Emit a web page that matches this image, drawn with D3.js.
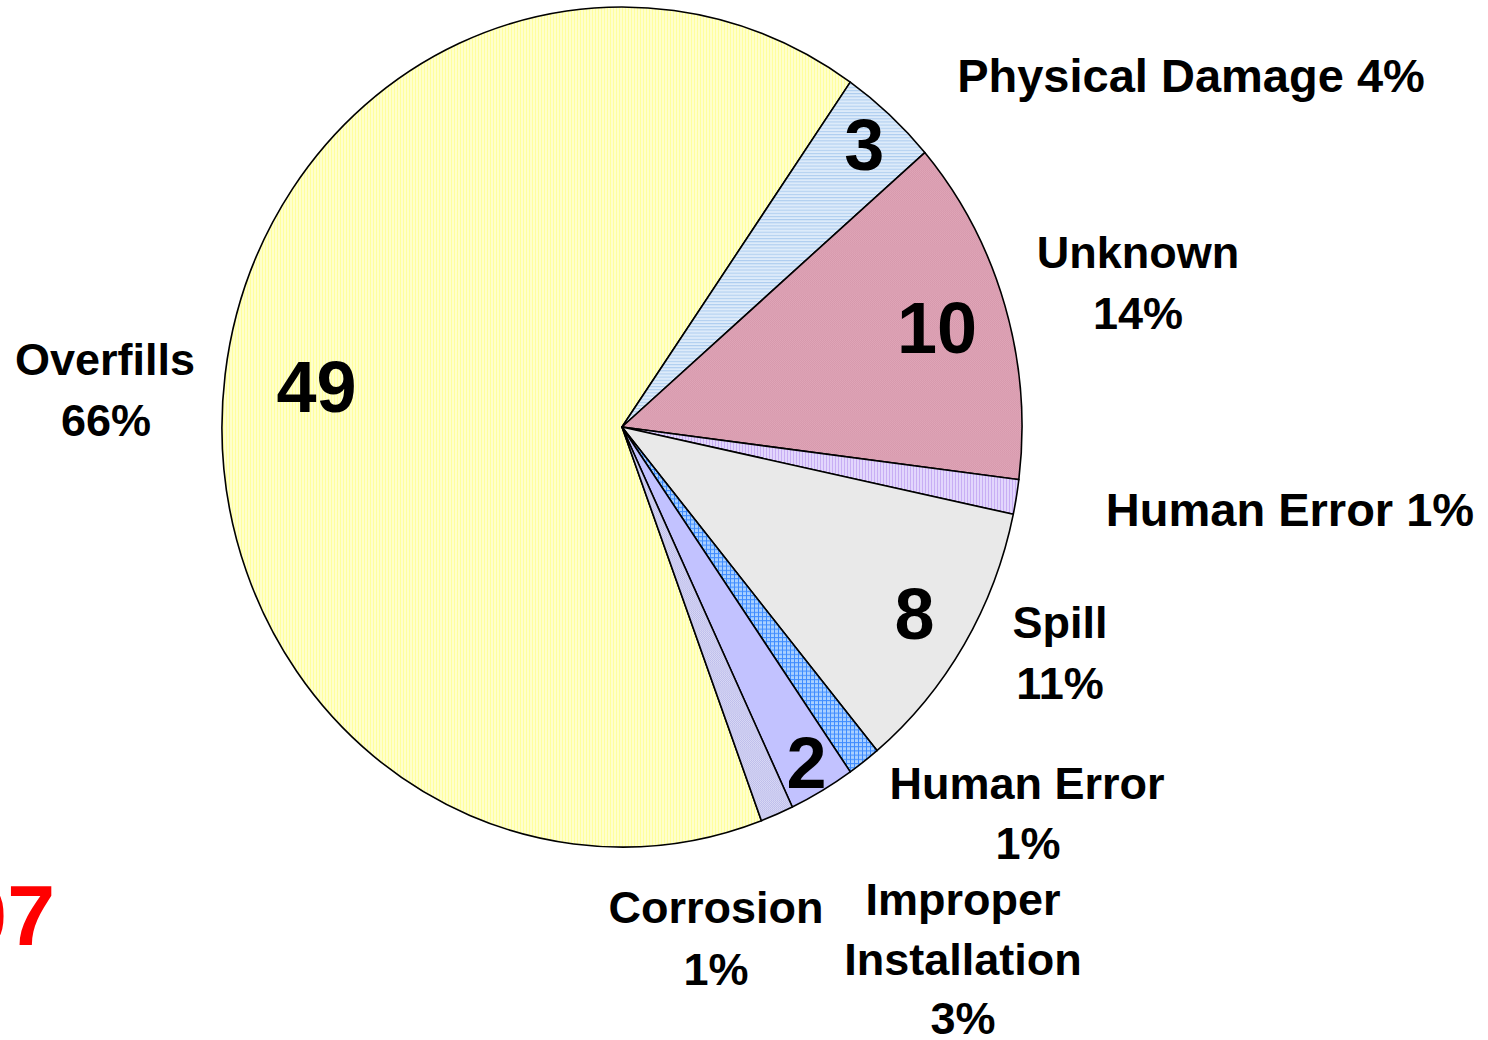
<!DOCTYPE html>
<html>
<head>
<meta charset="utf-8">
<script src="https://cdn.jsdelivr.net/npm/d3@7"></script>
<style>
  html, body { margin: 0; padding: 0; background: #fff; }
  svg { display: block; }
  text { font-family: "Liberation Sans", Arial, sans-serif; font-weight: bold; fill: #000; }
</style>
</head>
<body>
<svg id="chart" width="1488" height="1040"></svg>
<script>
// ---- data ----
const categories = ["Overfills", "Physical Damage", "Unknown", "Human Error", "Spill", "Human Error", "Improper Installation", "Corrosion"];
const counts = [49, 3, 10, 1, 8, 1, 2, 1];
const percentLabels = ["66%", "4%", "14%", "1%", "11%", "1%", "3%", "1%"];
const showCount = [true, true, true, false, true, false, true, false];

// ---- layout (text placement, not data) ----
const outerLabelLines = [
  [{t: "Overfills", x: 105, y: 375}, {t: "66%", x: 106, y: 436}],
  [{t: "Physical Damage 4%", x: 1191, y: 92, s: 47}],
  [{t: "Unknown", x: 1138, y: 268}, {t: "14%", x: 1138, y: 329}],
  [{t: "Human Error 1%", x: 1290, y: 526, s: 47}],
  [{t: "Spill", x: 1060, y: 638}, {t: "11%", x: 1060, y: 699}],
  [{t: "Human Error", x: 1027, y: 799}, {t: "1%", x: 1028, y: 859}],
  [{t: "Improper", x: 963, y: 915}, {t: "Installation", x: 963, y: 975}, {t: "3%", x: 963, y: 1034}],
  [{t: "Corrosion", x: 716, y: 923}, {t: "1%", x: 716, y: 985}]
];
const countLabelRadius = [308, 362, 329, 0, 342, 0, 369, 0];

const cx = 622, cy = 427, R = 400, yStretch = 1.05;
const startDeg = 159.6;

const svg = d3.select("#chart");
const defs = svg.append("defs");

function stripePattern(id, w, h, base, lineColor, lines) {
  const p = defs.append("pattern").attr("id", id).attr("patternUnits", "userSpaceOnUse")
    .attr("width", w).attr("height", h);
  p.append("rect").attr("width", w).attr("height", h).attr("fill", base);
  lines.forEach(l => p.append("rect").attr("x", l[0]).attr("y", l[1]).attr("width", l[2]).attr("height", l[3]).attr("fill", lineColor));
}
stripePattern("pYellow", 3, 10, "#FFFFCC", "#FFFF9E", [[0, 0, 1, 10]]);
stripePattern("pBlue", 10, 3, "#DDEBFA", "#AECDEF", [[0, 0, 10, 1]]);
stripePattern("pPink", 2, 2, "#E0A6B8", "#D698AC", [[0, 0, 1, 1], [1, 1, 1, 1]]);
stripePattern("pPurple", 3, 10, "#E2D6FC", "#C8AEF4", [[0, 0, 1, 10]]);
stripePattern("pGrid", 4, 4, "#A9D0FF", "#3F8CFF", [[0, 0, 4, 1], [0, 0, 1, 4]]);
stripePattern("pCorr", 2, 2, "#DADAF6", "#BCBCEA", [[0, 0, 1, 1], [1, 1, 1, 1]]);

const fills = ["url(#pYellow)", "url(#pBlue)", "url(#pPink)", "url(#pPurple)", "#E9E9E9", "url(#pGrid)", "#C2C2FF", "url(#pCorr)"];

const data = categories.map((c, i) => ({cat: c, value: counts[i], i}));
const a0 = startDeg * Math.PI / 180;
const pie = d3.pie().sort(null).value(d => d.value).startAngle(a0).endAngle(a0 + 2 * Math.PI);
const arcs = pie(data);
const arc = d3.arc().innerRadius(0).outerRadius(R);

const g = svg.append("g").attr("transform", `translate(${cx},${cy}) scale(1,${yStretch})`);
g.selectAll("path").data(arcs).join("path")
  .attr("d", arc)
  .attr("fill", d => fills[d.data.i])
  .attr("stroke", "#000")
  .attr("stroke-width", 1.6)
  .attr("stroke-linejoin", "round")
  .attr("vector-effect", "non-scaling-stroke");

// count labels inside slices
arcs.forEach(d => {
  if (!showCount[d.data.i]) return;
  const r = countLabelRadius[d.data.i];
  const c = d3.arc().innerRadius(r).outerRadius(r).centroid(d);
  svg.append("text")
    .attr("x", cx + c[0])
    .attr("y", cy + c[1] * yStretch)
    .attr("dy", "0.36em")
    .attr("text-anchor", "middle")
    .attr("font-size", 72)
    .text(d.data.value);
});

// outer category labels
outerLabelLines.forEach((lines, i) => {
  lines.forEach(l => {
    svg.append("text").attr("x", l.x).attr("y", l.y)
      .attr("text-anchor", "middle").attr("font-size", l.s || 45).text(l.t);
  });
});

// partially visible red year
svg.append("text").attr("x", 55).attr("y", 945).attr("text-anchor", "end")
  .attr("font-size", 86).style("fill", "#FF0000").text("2007");
</script>
</body>
</html>
